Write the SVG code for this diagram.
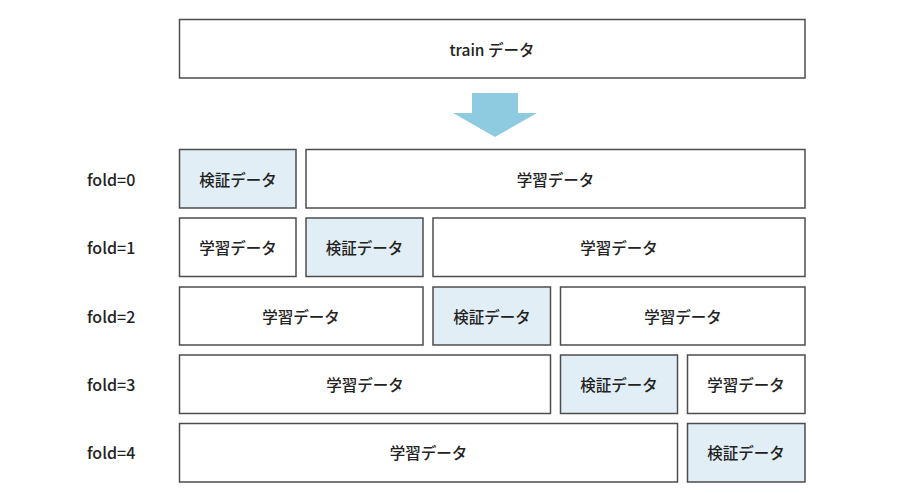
<svg xmlns="http://www.w3.org/2000/svg" width="902" height="494" viewBox="0 0 902 494">
<style>
.b{stroke:#4d4d4d;stroke-width:1.5;fill:#fff}
.v{fill:#e1eef5}
text{font-family:"Noto Sans CJK JP","Noto Sans",sans-serif;font-size:15.5px;font-weight:500;fill:#222;text-anchor:middle;dominant-baseline:central}
.l{text-anchor:start;font-size:16px}
</style>
<rect width="902" height="494" fill="#fff"/>
<g id="train"><rect class="b" x="179.5" y="19.5" width="625.5" height="58.5"/><text x="492" y="49">train データ</text></g>
<g id="connectors"><polygon points="472,93 518,93 518,113 537,113 495,137 453,113 472,113" fill="#8fcbe0"/></g>
<g id="labels">
<text class="l" x="87" y="179">fold=0</text>
<text class="l" x="87" y="247">fold=1</text>
<text class="l" x="87" y="316">fold=2</text>
<text class="l" x="87" y="384">fold=3</text>
<text class="l" x="87" y="452">fold=4</text>
</g>
<g id="fold0">
<rect class="b v" x="179.5" y="149.5" width="116.5" height="58.5"/><text x="238" y="179">検証データ</text>
<rect class="b" x="306" y="149.5" width="499" height="58.5"/><text x="555.5" y="179">学習データ</text>
</g>
<g id="fold1">
<rect class="b" x="179.5" y="218" width="116.5" height="58.5"/><text x="238" y="247">学習データ</text>
<rect class="b v" x="306" y="218" width="117" height="58.5"/><text x="364.5" y="247">検証データ</text>
<rect class="b" x="433" y="218" width="372" height="58.5"/><text x="619" y="247">学習データ</text>
</g>
<g id="fold2">
<rect class="b" x="179.5" y="287" width="243.5" height="58"/><text x="301" y="316">学習データ</text>
<rect class="b v" x="433" y="287" width="117.5" height="58"/><text x="492" y="316">検証データ</text>
<rect class="b" x="560.5" y="287" width="244.5" height="58"/><text x="683" y="316">学習データ</text>
</g>
<g id="fold3">
<rect class="b" x="179.5" y="355" width="371" height="58.5"/><text x="365" y="384">学習データ</text>
<rect class="b v" x="560.5" y="355" width="117" height="58.5"/><text x="619" y="384">検証データ</text>
<rect class="b" x="687.5" y="355" width="117.5" height="58.5"/><text x="746" y="384">学習データ</text>
</g>
<g id="fold4">
<rect class="b" x="179.5" y="423.5" width="498" height="58.5"/><text x="428.5" y="452">学習データ</text>
<rect class="b v" x="687.5" y="423.5" width="117.5" height="58.5"/><text x="746" y="452">検証データ</text>
</g>
</svg>
